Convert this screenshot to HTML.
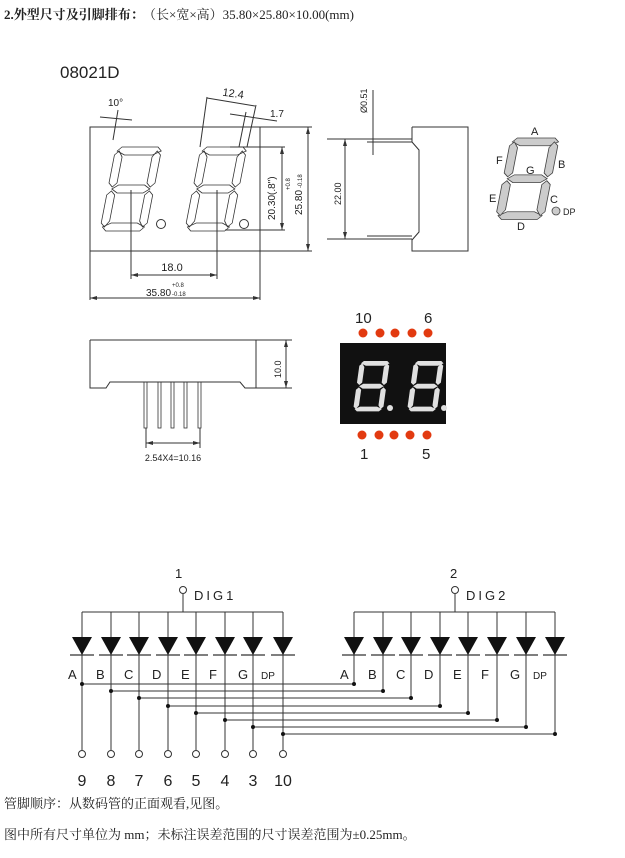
<!DOCTYPE html>
<html><head><meta charset="utf-8"><style>
body{margin:0;background:#fff;width:625px;height:858px;overflow:hidden}
svg{display:block}
text{font-family:"Liberation Sans","Noto Sans CJK SC",sans-serif;fill:#222}
.s{font-family:"Liberation Serif","Noto Serif CJK SC",serif}
</style></head><body>
<svg width="625" height="858" viewBox="0 0 625 858" xmlns="http://www.w3.org/2000/svg">
<defs>
<g id="dg">
<polygon points="6,0 42,0 46,4 38,8 10,8 2,4"/>
<polygon points="2,80 10,76 36,76 44,80 40,84 6,84"/>
<polygon points="4,42 10,38 36,38 42,42 36,46 10,46"/>
<polygon points="4,4 8,10 8,36 4,40 0,36 0,8"/>
<polygon points="42,4 46,8 46,36 42,40 38,36 38,10"/>
<polygon points="4,44 8,48 8,74 4,80 0,76 0,48"/>
<polygon points="42,44 46,48 46,76 42,80 38,74 38,48"/>
</g>
</defs>
<text x="4" y="19" class="s" font-size="13" font-weight="bold">2.外型尺寸及引脚排布：</text>
<text x="143" y="19" class="s" font-size="13">（长×宽×高）35.80×25.80×10.00(mm)</text>
<text x="60" y="78" font-size="17" fill="#333">08021D</text>

<g stroke="#333" stroke-width="1" fill="none">
<!-- front view -->
<rect x="90" y="127" width="170" height="124"/>
<line x1="90" y1="251" x2="90" y2="300"/><line x1="260" y1="251" x2="260" y2="300"/>
<line x1="90" y1="298" x2="260" y2="298"/>
<line x1="131" y1="190" x2="131" y2="279"/><line x1="217" y1="190" x2="217" y2="279"/>
<line x1="131" y1="275" x2="217" y2="275"/>
<g transform="translate(116,147) skewX(-11)" stroke-width="0.8"><use href="#dg"/></g>
<g transform="translate(201,147) skewX(-11)" stroke-width="0.8"><use href="#dg"/></g>
<circle cx="161" cy="224" r="4.5"/><circle cx="244" cy="224" r="4.5"/>
<line x1="230" y1="147" x2="285" y2="147"/><line x1="225" y1="230" x2="285" y2="230"/>
<line x1="282" y1="147" x2="282" y2="230"/>
<line x1="260" y1="127" x2="312" y2="127"/><line x1="260" y1="251" x2="312" y2="251"/>
<line x1="308" y1="127" x2="308" y2="251"/>
<line x1="113" y1="140" x2="118" y2="110"/><line x1="100" y1="117" x2="132" y2="120"/>
<line x1="200" y1="147" x2="207" y2="97"/><line x1="247" y1="147" x2="256" y2="105"/>
<line x1="207" y1="98" x2="255" y2="106"/>
<line x1="230" y1="114" x2="277" y2="121"/><line x1="239" y1="147" x2="246" y2="112"/>
<!-- side view -->
<line x1="327" y1="139" x2="412" y2="139"/><line x1="367" y1="142" x2="412" y2="142"/>
<line x1="327" y1="239" x2="412" y2="239"/><line x1="367" y1="236" x2="412" y2="236"/>
<polyline points="412,127 468,127 468,251 412,251 412,240 419,232 419,150 412,142 412,127"/>
<line x1="345" y1="139" x2="345" y2="239"/>
<line x1="373" y1="90" x2="373" y2="155"/>
<!-- bottom view -->
<polyline points="90,340 256,340 256,388 245,388 240,382 110,382 106,388 90,388 90,340"/>
<line x1="256" y1="340" x2="292" y2="340"/><line x1="256" y1="388" x2="292" y2="388"/>
<line x1="286" y1="340" x2="286" y2="388"/>
<g stroke-width="0.8">
<rect x="144" y="382" width="3" height="46"/><rect x="158" y="382" width="3" height="46"/>
<rect x="171" y="382" width="3" height="46"/><rect x="184" y="382" width="3" height="46"/>
<rect x="198" y="382" width="3" height="46"/>
</g>
<line x1="146" y1="428" x2="146" y2="448"/><line x1="200" y1="428" x2="200" y2="448"/>
<line x1="146" y1="443" x2="200" y2="443"/>
</g>
<!-- arrowheads -->
<g fill="#333">
<polygon points="131,275 138,273 138,277"/><polygon points="217,275 210,273 210,277"/>
<polygon points="282,147 280,154 284,154"/><polygon points="282,230 280,223 284,223"/>
<polygon points="308,127 306,134 310,134"/><polygon points="308,251 306,244 310,244"/>
<polygon points="345,139 343,146 347,146"/><polygon points="345,239 343,232 347,232"/>
<polygon points="286,340 284,347 288,347"/><polygon points="286,388 284,381 288,381"/>
<polygon points="146,443 153,441 153,445"/><polygon points="200,443 193,441 193,445"/>
<polygon points="90,298 97,296 97,300"/><polygon points="260,298 253,296 253,300"/>
</g>
<text x="172" y="271" font-size="11" text-anchor="middle">18.0</text>
<text x="146" y="296" font-size="10">35.80</text>
<text x="172" y="287" font-size="6">+0.8</text><text x="172" y="296" font-size="6">-0.18</text>
<text x="108" y="106" font-size="10">10°</text>
<text x="222" y="97" font-size="11" transform="rotate(8 232 97)">12.4</text>
<text x="270" y="117" font-size="10">1.7</text>
<text x="0" y="0" font-size="10" transform="translate(275,220) rotate(-90)">20.30(.8")</text>
<text x="0" y="0" font-size="10" transform="translate(302,215) rotate(-90)">25.80</text>
<text x="0" y="0" font-size="6" transform="translate(290,190) rotate(-90)">+0.8</text>
<text x="0" y="0" font-size="6" transform="translate(302,188) rotate(-90)">-0.18</text>
<text x="0" y="0" font-size="9" transform="translate(341,205) rotate(-90)">22.00</text>
<text x="0" y="0" font-size="9" transform="translate(367,113) rotate(-90)">Ø0.51</text>
<text x="0" y="0" font-size="9" transform="translate(281,378) rotate(-90)">10.0</text>
<text x="173" y="461" font-size="9" text-anchor="middle">2.54X4=10.16</text>

<!-- segment diagram -->
<g transform="translate(511,138) skewX(-11)" fill="#ccc" stroke="#444" stroke-width="0.8"><use href="#dg" transform="scale(1.05,0.97)"/></g>
<circle cx="556" cy="211" r="4" fill="#ccc" stroke="#444" stroke-width="0.8"/>
<g font-size="11" fill="#333">
<text x="531" y="135">A</text><text x="558" y="168">B</text><text x="496" y="164">F</text>
<text x="526" y="174">G</text><text x="489" y="202">E</text><text x="550" y="203">C</text>
<text x="517" y="230">D</text><text x="563" y="215" font-size="9">DP</text>
</g>

<!-- display -->
<rect x="340" y="343" width="106" height="81" fill="#111"/>
<g fill="#e0e0e0"><g transform="translate(360,361) skewX(-8) scale(0.65,0.6)"><use href="#dg"/></g>
<g transform="translate(414,361) skewX(-8) scale(0.65,0.6)"><use href="#dg"/></g>
<circle cx="390" cy="408" r="3"/><circle cx="444" cy="408" r="3"/></g>
<g fill="#e23a10">
<circle cx="363" cy="333" r="4.5"/><circle cx="380" cy="333" r="4.5"/><circle cx="395" cy="333" r="4.5"/><circle cx="412" cy="333" r="4.5"/><circle cx="428" cy="333" r="4.5"/>
<circle cx="362" cy="435" r="4.5"/><circle cx="379" cy="435" r="4.5"/><circle cx="394" cy="435" r="4.5"/><circle cx="410" cy="435" r="4.5"/><circle cx="427" cy="435" r="4.5"/>
</g>
<g font-size="15" fill="#222">
<text x="355" y="323">10</text><text x="424" y="323">6</text>
<text x="360" y="459">1</text><text x="422" y="459">5</text>
</g>

<!-- schematic -->
<g stroke="#333" stroke-width="1" fill="none">
<line x1="82" y1="612" x2="283" y2="612"/><line x1="354" y1="612" x2="555" y2="612"/>
<line x1="183" y1="612" x2="183" y2="594"/><line x1="455" y1="612" x2="455" y2="594"/>
<circle cx="183" cy="590" r="3.5"/><circle cx="455" cy="590" r="3.5"/>
</g>
<g font-size="13" fill="#222">
<text x="175" y="578">1</text><text x="450" y="578">2</text>
<text x="194" y="600" letter-spacing="3">DIG1</text><text x="466" y="600" letter-spacing="3">DIG2</text>
</g>
<g id="L" stroke="#333" fill="none"></g>
<g stroke="#333" stroke-width="1">
<!-- left wires -->
<line x1="82" y1="612" x2="82" y2="750"/><line x1="111" y1="612" x2="111" y2="750"/>
<line x1="139" y1="612" x2="139" y2="750"/><line x1="168" y1="612" x2="168" y2="750"/>
<line x1="196" y1="612" x2="196" y2="750"/><line x1="225" y1="612" x2="225" y2="750"/>
<line x1="253" y1="612" x2="253" y2="750"/><line x1="283" y1="612" x2="283" y2="750"/>
<!-- right wires -->
<line x1="354" y1="612" x2="354" y2="684"/><line x1="383" y1="612" x2="383" y2="691"/>
<line x1="411" y1="612" x2="411" y2="698"/><line x1="440" y1="612" x2="440" y2="706"/>
<line x1="468" y1="612" x2="468" y2="713"/><line x1="497" y1="612" x2="497" y2="720"/>
<line x1="526" y1="612" x2="526" y2="727"/><line x1="555" y1="612" x2="555" y2="734"/>
<!-- horizontals -->
<line x1="82" y1="684" x2="354" y2="684"/><line x1="111" y1="691" x2="383" y2="691"/>
<line x1="139" y1="698" x2="411" y2="698"/><line x1="168" y1="706" x2="440" y2="706"/>
<line x1="196" y1="713" x2="468" y2="713"/><line x1="225" y1="720" x2="497" y2="720"/>
<line x1="253" y1="727" x2="526" y2="727"/><line x1="283" y1="734" x2="555" y2="734"/>
<!-- diode bars -->
<g stroke-width="1.2">
<line x1="70" y1="655" x2="94" y2="655"/><line x1="99" y1="655" x2="123" y2="655"/><line x1="127" y1="655" x2="151" y2="655"/><line x1="156" y1="655" x2="180" y2="655"/><line x1="184" y1="655" x2="208" y2="655"/><line x1="213" y1="655" x2="237" y2="655"/><line x1="241" y1="655" x2="265" y2="655"/><line x1="271" y1="655" x2="295" y2="655"/>
<line x1="342" y1="655" x2="366" y2="655"/><line x1="371" y1="655" x2="395" y2="655"/><line x1="399" y1="655" x2="423" y2="655"/><line x1="428" y1="655" x2="452" y2="655"/><line x1="456" y1="655" x2="480" y2="655"/><line x1="485" y1="655" x2="509" y2="655"/><line x1="514" y1="655" x2="538" y2="655"/><line x1="543" y1="655" x2="567" y2="655"/>
</g>
</g>
<g fill="#111">
<polygon points="72,637 92,637 82,655"/><polygon points="101,637 121,637 111,655"/><polygon points="129,637 149,637 139,655"/><polygon points="158,637 178,637 168,655"/><polygon points="186,637 206,637 196,655"/><polygon points="215,637 235,637 225,655"/><polygon points="243,637 263,637 253,655"/><polygon points="273,637 293,637 283,655"/>
<polygon points="344,637 364,637 354,655"/><polygon points="373,637 393,637 383,655"/><polygon points="401,637 421,637 411,655"/><polygon points="430,637 450,637 440,655"/><polygon points="458,637 478,637 468,655"/><polygon points="487,637 507,637 497,655"/><polygon points="516,637 536,637 526,655"/><polygon points="545,637 565,637 555,655"/>
<circle cx="82" cy="684" r="2"/><circle cx="111" cy="691" r="2"/><circle cx="139" cy="698" r="2"/><circle cx="168" cy="706" r="2"/><circle cx="196" cy="713" r="2"/><circle cx="225" cy="720" r="2"/><circle cx="253" cy="727" r="2"/><circle cx="283" cy="734" r="2"/>
<circle cx="354" cy="684" r="2"/><circle cx="383" cy="691" r="2"/><circle cx="411" cy="698" r="2"/><circle cx="440" cy="706" r="2"/><circle cx="468" cy="713" r="2"/><circle cx="497" cy="720" r="2"/><circle cx="526" cy="727" r="2"/><circle cx="555" cy="734" r="2"/>
</g>
<g fill="#fff" stroke="#333">
<circle cx="82" cy="754" r="3.5"/><circle cx="111" cy="754" r="3.5"/><circle cx="139" cy="754" r="3.5"/><circle cx="168" cy="754" r="3.5"/><circle cx="196" cy="754" r="3.5"/><circle cx="225" cy="754" r="3.5"/><circle cx="253" cy="754" r="3.5"/><circle cx="283" cy="754" r="3.5"/>
</g>
<g font-size="13" fill="#222">
<text x="68" y="679">A</text><text x="96" y="679">B</text><text x="124" y="679">C</text><text x="152" y="679">D</text><text x="181" y="679">E</text><text x="209" y="679">F</text><text x="238" y="679">G</text><text x="261" y="679" font-size="10">DP</text>
<text x="340" y="679">A</text><text x="368" y="679">B</text><text x="396" y="679">C</text><text x="424" y="679">D</text><text x="453" y="679">E</text><text x="481" y="679">F</text><text x="510" y="679">G</text><text x="533" y="679" font-size="10">DP</text>
</g>
<g font-size="16" fill="#222" text-anchor="middle">
<text x="82" y="786">9</text><text x="111" y="786">8</text><text x="139" y="786">7</text><text x="168" y="786">6</text><text x="196" y="786">5</text><text x="225" y="786">4</text><text x="253" y="786">3</text><text x="283" y="786">10</text>
</g>
<text x="4" y="808" class="s" font-size="13">管脚顺序：从数码管的正面观看,见图。</text>
<text x="4" y="839" class="s" font-size="13">图中所有尺寸单位为 mm；未标注误差范围的尺寸误差范围为±0.25mm。</text>
</svg>
</body></html>
